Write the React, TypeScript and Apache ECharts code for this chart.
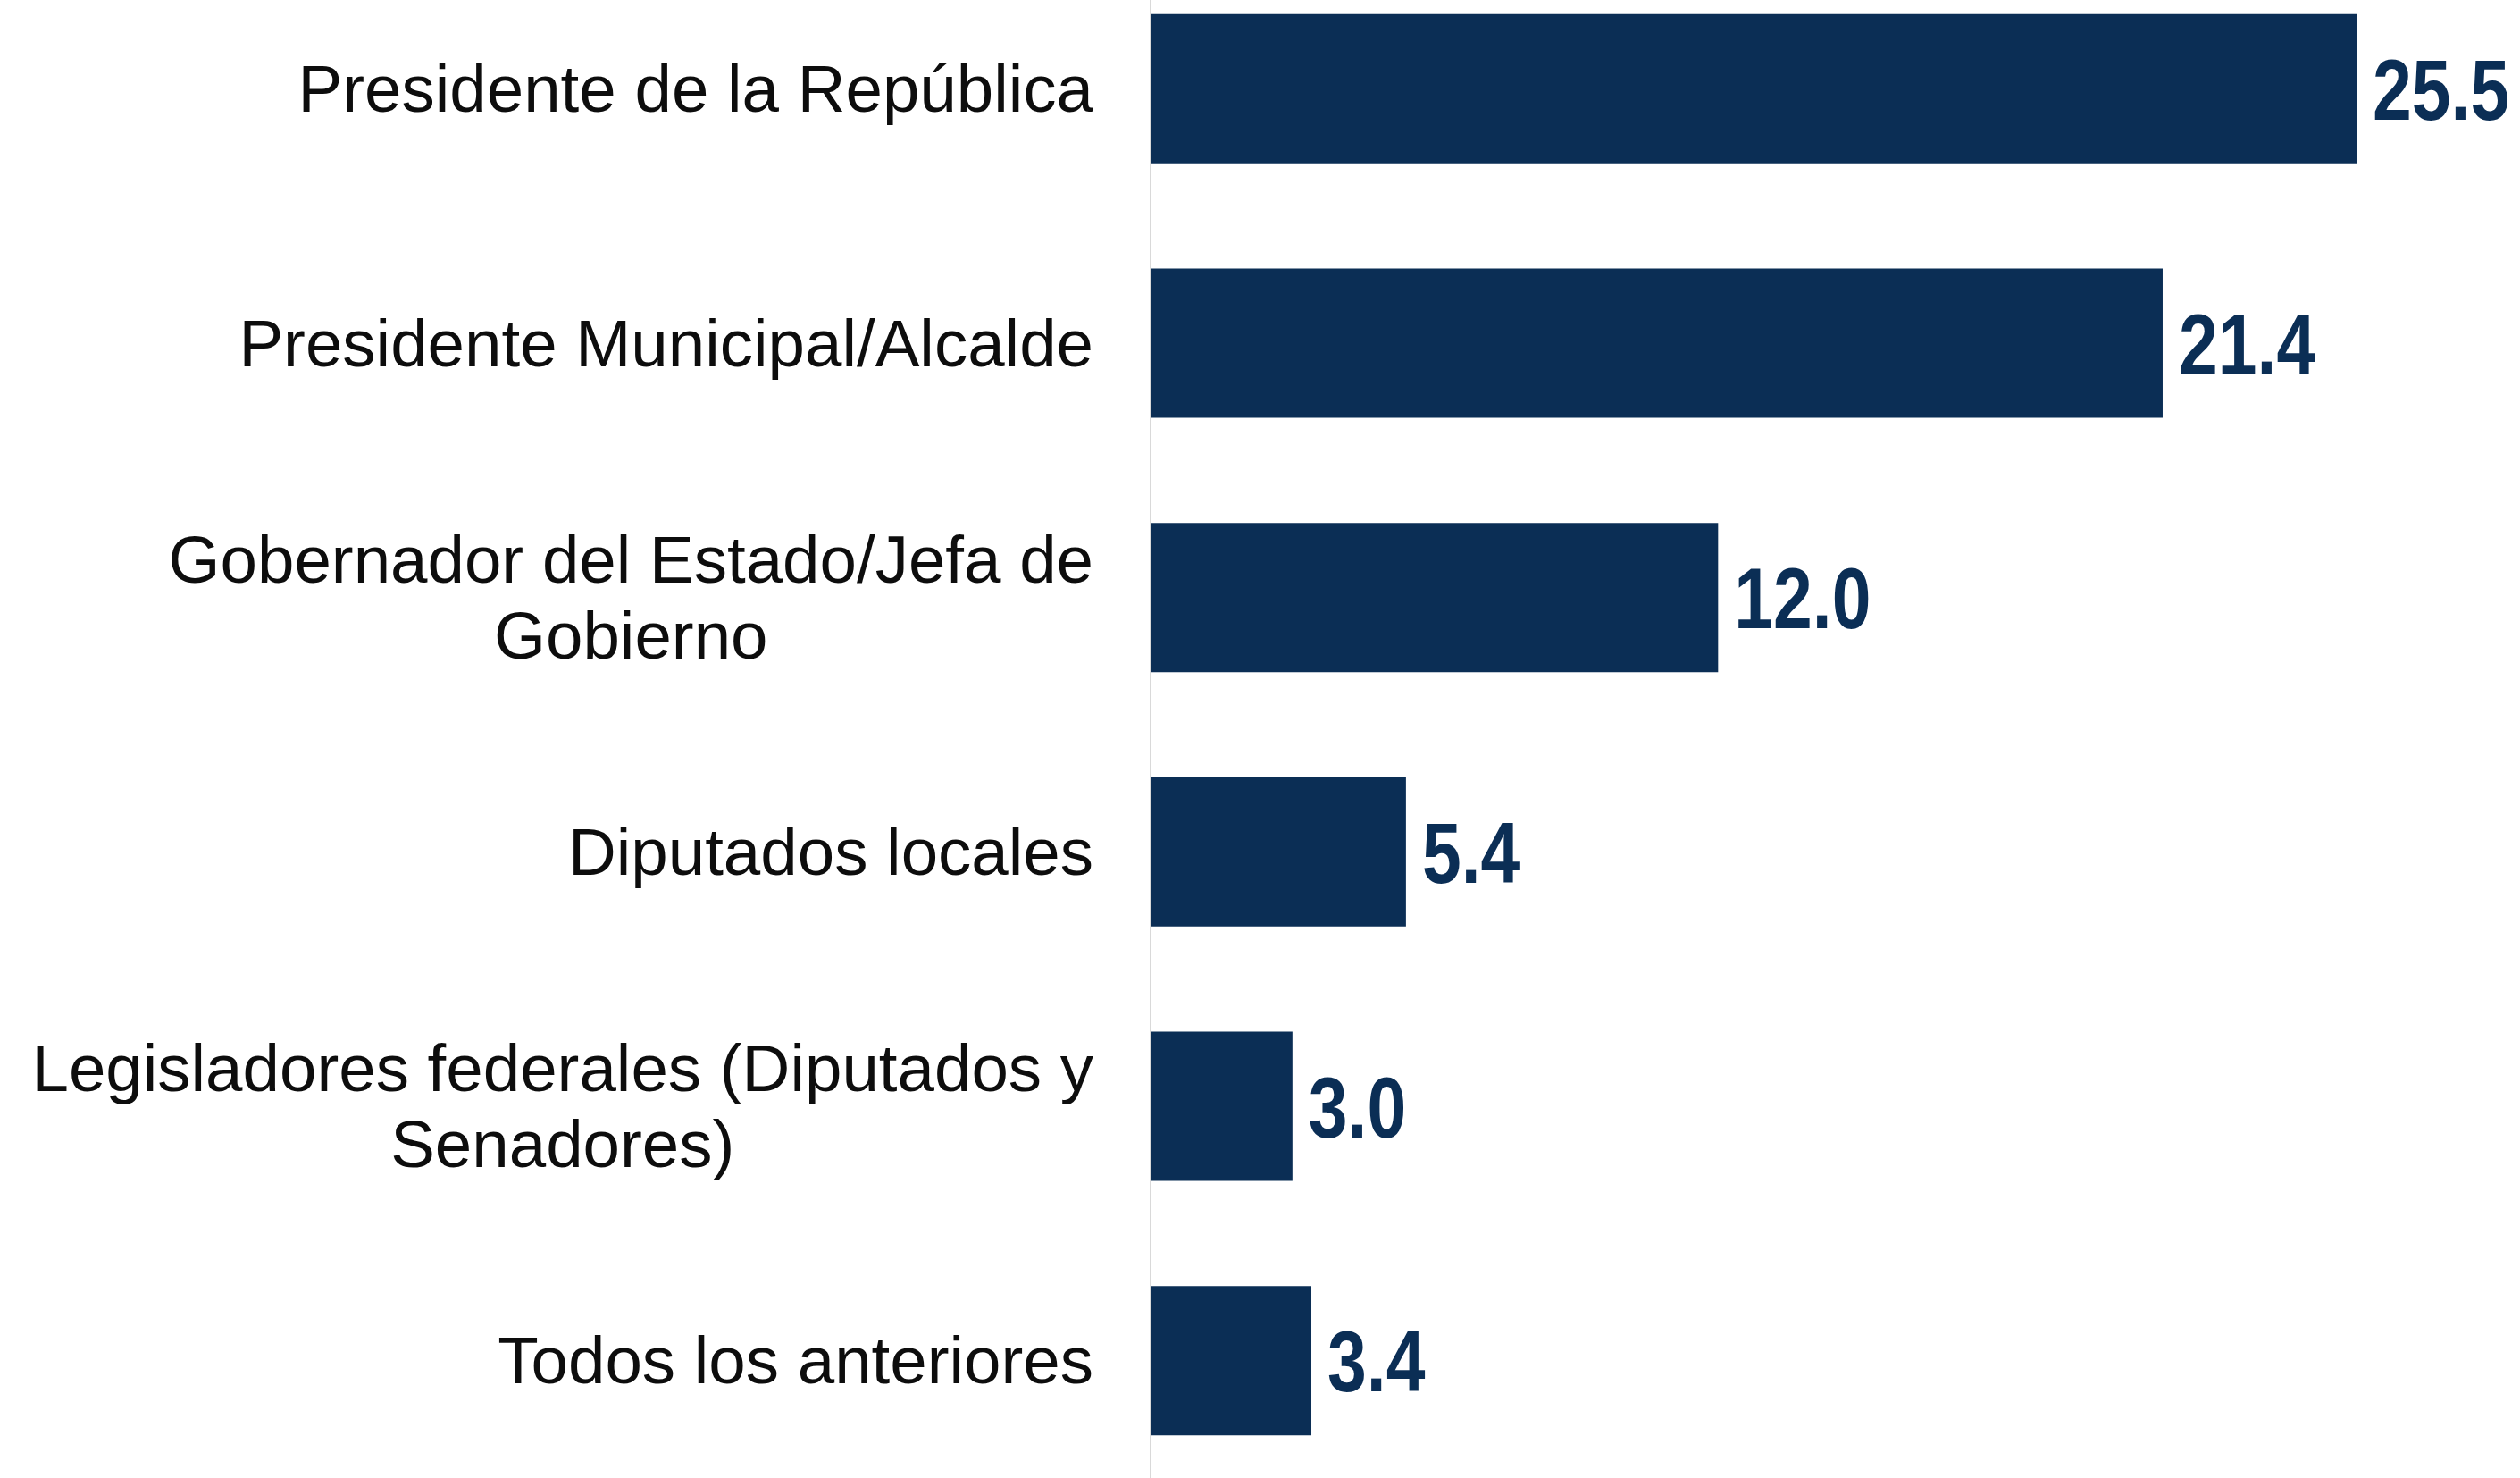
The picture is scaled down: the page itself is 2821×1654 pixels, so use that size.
import React, { useEffect, useRef } from "react";
import * as echarts from "echarts";

// Category labels (line breaks as they are wrapped on the axis)
const categories: string[] = [
  "Presidente de la República",
  "Presidente Municipal/Alcalde",
  "Gobernador del Estado/Jefa de\nGobierno",
  "Diputados locales",
  "Legisladores federales (Diputados y\nSenadores)",
  "Todos los anteriores",
];

// Percentages per category
const values: number[] = [25.5, 21.4, 12.0, 5.4, 3.0, 3.4];

const NAVY = "#0B2E55";

export default function App() {
  const ref = useRef<HTMLDivElement | null>(null);

  useEffect(() => {
    if (!ref.current) return;
    const chart = echarts.init(ref.current, null, { renderer: "svg" });
    chart.setOption({
      animation: false,
      backgroundColor: "#ffffff",
      grid: {
        left: 1288,
        right: 50.6,
        top: 0,
        bottom: 0,
        containLabel: false,
      },
      xAxis: {
        type: "value",
        min: 0,
        max: 28,
        show: false,
      },
      yAxis: {
        type: "category",
        inverse: true,
        data: categories,
        axisLine: { show: true, lineStyle: { color: "#d9d9d9", width: 2 } },
        axisTick: { show: false },
        splitLine: { show: false },
        axisLabel: {
          margin: 64,
          align: "right",
          formatter: (v: string) => `{c|${v}}`,
          rich: {
            c: {
              align: "center",
              fontFamily: "'Liberation Sans', Arial, sans-serif",
              fontSize: 74.5,
              lineHeight: 85,
              color: "#0d0d0d",
            },
          },
        },
      },
      series: [
        {
          type: "bar",
          data: values,
          barWidth: 167,
          itemStyle: { color: NAVY },
          silent: true,
        },
        {
          // value labels in a condensed bold face, placed at the bar ends
          type: "custom",
          data: values.map((v, i) => [v, i]),
          encode: { x: 0, y: 1 },
          silent: true,
          z: 5,
          renderItem: (params: any, api: any) => {
            const v = api.value(0);
            const pt = api.coord([v, api.value(1)]);
            return {
              type: "text",
              x: pt[0] + 18,
              y: pt[1] + 2,
              scaleX: 0.82,
              style: {
                text: Number(v).toFixed(1),
                fontFamily: "'Liberation Sans', Arial, sans-serif",
                fontWeight: "bold",
                fontSize: 96,
                fill: NAVY,
                align: "left",
                verticalAlign: "middle",
              },
            };
          },
        },
      ],
    });
    return () => chart.dispose();
  }, []);

  return (
    <div
      ref={ref}
      style={{ position: "fixed", left: 0, top: -43, width: 2821, height: 1708 }}
    />
  );
}
